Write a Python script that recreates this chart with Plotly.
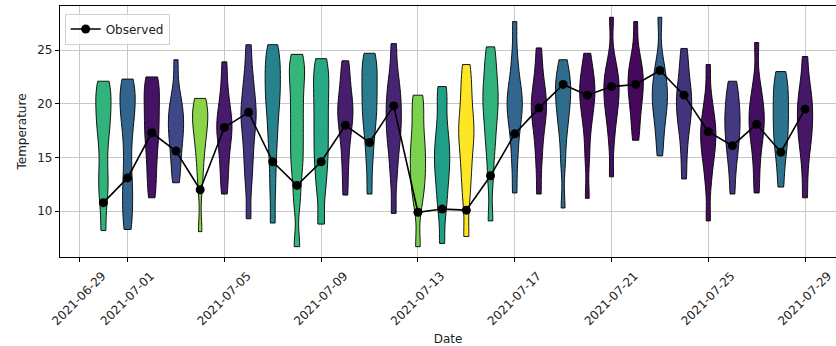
import plotly.graph_objects as go
from plotly.colors import sample_colorscale
import pandas as pd

# ---- data ----
dates = pd.date_range("2021-06-30", "2021-07-29", freq="D").strftime("%Y-%m-%d").tolist()

observed = [10.8, 13.1, 17.3, 15.6, 12.0, 17.8, 19.2, 14.6, 12.4, 14.6,
            18.0, 16.4, 19.8, 9.9, 10.2, 10.1, 13.3, 17.2, 19.6, 21.8,
            20.8, 21.6, 21.8, 23.1, 20.8, 17.4, 16.1, 18.1, 15.5, 19.5]

# approximate ensemble member temperatures per day (estimated from violin shapes)
ensemble = [
    [8.2, 11.0, 12.5, 14.0, 16.0, 17.5, 18.5, 19.5, 20.5, 21.5, 22.1],
    [8.3, 10.0, 11.5, 13.0, 15.0, 17.0, 18.5, 19.5, 20.5, 21.5, 22.3],
    [11.25, 13.0, 14.5, 16.0, 17.0, 18.0, 19.0, 20.0, 21.0, 22.0, 22.5],
    [12.65, 14.0, 15.5, 16.5, 17.5, 18.2, 19.0, 19.8, 21.0, 24.1],
    [8.1, 12.5, 14.5, 16.0, 17.0, 18.0, 18.6, 19.3, 20.0, 20.5],
    [11.6, 13.5, 15.0, 16.5, 17.3, 18.0, 18.8, 19.8, 21.5, 23.9],
    [9.3, 12.5, 14.5, 16.0, 17.5, 18.5, 19.3, 20.2, 21.5, 23.0, 25.5],
    [8.9, 12.0, 14.5, 16.5, 18.0, 19.5, 20.5, 21.5, 22.5, 23.5, 24.5, 25.5],
    [6.7, 11.0, 13.5, 15.0, 16.5, 18.0, 19.5, 21.0, 22.5, 23.5, 24.6],
    [8.8, 12.0, 14.0, 15.5, 17.0, 18.5, 20.0, 21.5, 22.8, 24.2],
    [11.5, 14.0, 16.0, 17.5, 18.5, 19.3, 20.0, 21.0, 22.5, 24.0],
    [11.6, 14.5, 16.5, 18.0, 19.0, 20.0, 21.0, 22.0, 23.0, 24.0, 24.7],
    [9.8, 13.0, 15.0, 16.5, 17.5, 18.5, 19.5, 20.5, 21.5, 23.0, 25.6],
    [6.7, 10.5, 12.0, 13.0, 14.0, 15.0, 16.0, 17.0, 18.5, 20.0, 20.8],
    [7.0, 10.0, 11.5, 13.0, 14.0, 15.0, 16.0, 17.0, 18.5, 20.5, 21.6],
    [7.65, 11.0, 13.0, 14.5, 16.0, 17.0, 18.0, 19.0, 20.5, 22.0, 23.65],
    [9.1, 13.0, 15.5, 17.0, 18.5, 19.5, 20.5, 21.5, 22.5, 24.0, 25.3],
    [11.7, 14.5, 16.5, 18.0, 19.0, 19.8, 20.5, 21.3, 22.5, 24.5, 27.65],
    [11.6, 14.5, 16.5, 18.0, 19.0, 19.8, 20.5, 21.5, 23.0, 25.2],
    [10.3, 14.5, 17.0, 18.5, 19.5, 20.5, 21.3, 22.0, 22.8, 24.1],
    [11.2, 15.0, 17.5, 19.0, 20.0, 20.8, 21.5, 22.2, 23.2, 24.7],
    [13.2, 16.5, 18.5, 19.5, 20.5, 21.3, 22.0, 22.8, 24.0, 28.05],
    [16.6, 18.0, 19.5, 20.5, 21.3, 22.0, 22.7, 23.5, 24.5, 27.65],
    [15.15, 17.0, 18.5, 19.5, 20.3, 21.0, 21.8, 22.7, 24.0, 28.05],
    [13.0, 15.5, 17.5, 18.5, 19.5, 20.3, 21.0, 22.0, 23.5, 25.15],
    [9.1, 12.5, 14.5, 15.5, 16.5, 17.3, 18.0, 19.0, 20.5, 23.65],
    [11.6, 14.0, 15.5, 16.5, 17.5, 18.3, 19.0, 20.0, 21.0, 22.1],
    [11.7, 14.0, 16.0, 17.0, 18.0, 18.8, 19.5, 20.5, 22.0, 25.7],
    [12.25, 14.5, 16.0, 17.0, 18.0, 19.0, 20.0, 21.0, 22.0, 23.0],
    [11.25, 14.0, 16.0, 17.0, 18.0, 19.0, 19.8, 20.8, 22.0, 24.4],
]

# viridis position of each violin's colour
color_levels = [0.65, 0.32, 0.05, 0.22, 0.82, 0.07, 0.16, 0.45, 0.66, 0.6,
                0.08, 0.42, 0.1, 0.8, 0.56, 1.0, 0.64, 0.33, 0.05, 0.35,
                0.03, 0.04, 0.02, 0.3, 0.15, 0.03, 0.17, 0.04, 0.38, 0.06]

x_tick_vals = ["2021-06-29", "2021-07-01", "2021-07-05", "2021-07-09", "2021-07-13",
               "2021-07-17", "2021-07-21", "2021-07-25", "2021-07-29"]
y_tick_vals = [10, 15, 20, 25]

# ---- figure ----
colors = sample_colorscale("Viridis", color_levels)

fig = go.Figure()
for d, samples, col in zip(dates, ensemble, colors):
    fig.add_trace(go.Violin(
        x=[d] * len(samples), y=samples,
        fillcolor=col, line=dict(color="black", width=0.9),
        opacity=1, spanmode="hard",
        bandwidth=1.4, points=False, box_visible=False,
        meanline_visible=False, showlegend=False, hoverinfo="skip",
        scalemode="width",
    ))

fig.add_trace(go.Scatter(
    x=dates, y=observed, mode="lines+markers", name="Observed",
    line=dict(color="black", width=1.6),
    marker=dict(color="black", size=9),
))

font_family = "DejaVu Sans"
fig.update_layout(
    width=836, height=346,
    margin=dict(l=60, r=0, t=6, b=89),
    plot_bgcolor="white", paper_bgcolor="white",
    font=dict(family=font_family, size=12, color="#222"),
    violinmode="overlay", violingap=0.37, violingroupgap=0,
    showlegend=True,
    legend=dict(x=0.006, y=0.97, xanchor="left", yanchor="top",
                bgcolor="rgba(255,255,255,0.85)", bordercolor="#d0d0d0",
                borderwidth=1, font=dict(size=12, family=font_family)),
)
fig.update_xaxes(
    type="date", automargin=False,
    range=["2021-06-28 04:57", "2021-07-30 06:43"],
    tickvals=x_tick_vals, tickformat="%Y-%m-%d", tickangle=-45,
    tickfont=dict(size=12), ticklabelshift=23, ticklabelstandoff=2,
    ticklabeloverflow="allow",
    showgrid=True, gridcolor="#c8c8c8", gridwidth=1,
    showline=True, linecolor="black", linewidth=1.2, mirror=True,
    ticks="outside", ticklen=4, tickcolor="black",
    title=dict(text="Date", font=dict(size=12), standoff=8),
    zeroline=False,
)
fig.update_yaxes(
    range=[5.74, 29.1], tickvals=y_tick_vals, automargin=False,
    tickfont=dict(size=12),
    showgrid=True, gridcolor="#c8c8c8", gridwidth=1,
    showline=True, linecolor="black", linewidth=1.2, mirror=True,
    ticks="outside", ticklen=4, tickcolor="black",
    title=dict(text="Temperature", font=dict(size=12), standoff=8),
    zeroline=False,
)

fig.write_html("out.html", config={"displayModeBar": False},
               post_script="document.body.style.margin='0';")
